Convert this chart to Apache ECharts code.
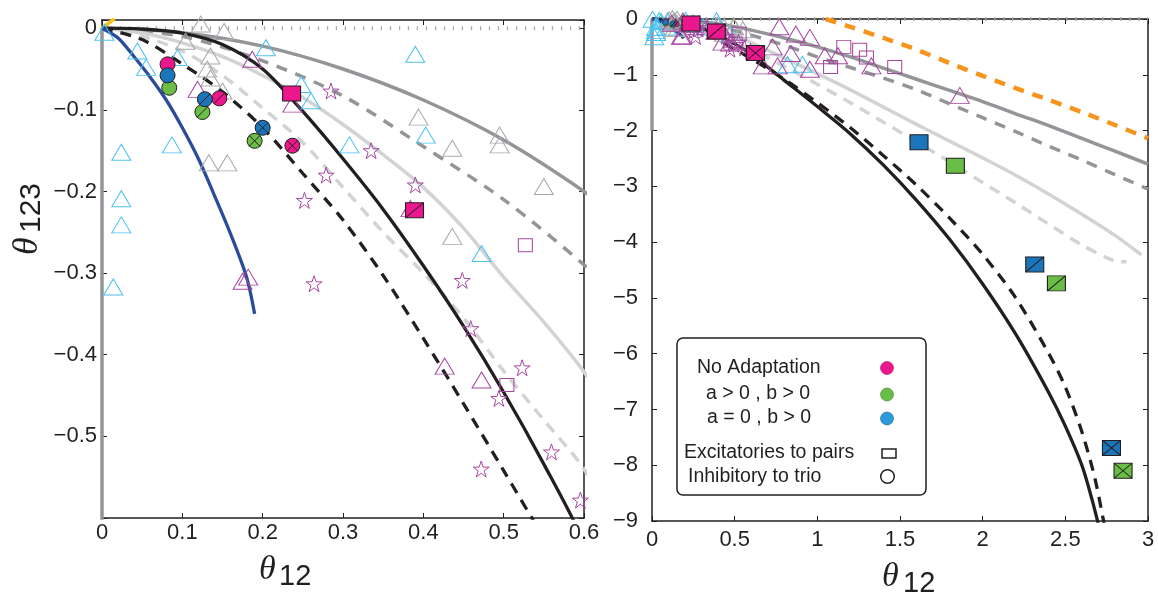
<!DOCTYPE html>
<html><head><meta charset="utf-8">
<script src="https://cdn.jsdelivr.net/npm/echarts@6/dist/echarts.min.js"></script>
<style>html,body{margin:0;padding:0;background:#fff}#c{width:1158px;height:596px}</style>
</head><body><div id="c"></div>
<script>
// ---------- tick labels ----------
const leftXTicks = [0, 0.1, 0.2, 0.3, 0.4, 0.5, 0.6];
const leftYTicks = [0, -0.1, -0.2, -0.3, -0.4, -0.5];
const rightXTicks = [0, 0.5, 1, 1.5, 2, 2.5, 3];
const rightYTicks = [0, -1, -2, -3, -4, -5, -6, -7, -8, -9];
const legendLabels = ['No Adaptation', 'a > 0 , b > 0', 'a = 0 , b > 0', 'Excitatories to pairs', 'Inhibitory to trio'];

// ---------- curves [theta12, theta123] ----------
const blueCurve = [[0,0],[0.02,-0.012],[0.04,-0.035],[0.06,-0.06],[0.08,-0.088],[0.1,-0.122],[0.12,-0.16],[0.14,-0.205],[0.16,-0.252],[0.18,-0.305],[0.19,-0.35]];
const yellowCurve = [[0,0],[0.016,0.012]];
const axisGrayLine = [[0,0],[0,-2]];
const zeroDotted = [[0,0],[3,0]];
const graySolid = [[0,0],[0.1,-0.0055],[0.2,-0.022],[0.3,-0.05],[0.4,-0.088],[0.5,-0.137],[0.6,-0.2],[0.8,-0.34],[1.0,-0.5],[1.2,-0.68],[1.4,-0.88],[1.6,-1.08],[1.8,-1.28],[2.0,-1.48],[2.2,-1.7],[2.4,-1.91],[2.6,-2.14],[2.8,-2.37],[3.0,-2.6]];
const grayDashed = [[0,0],[0.1,-0.01],[0.2,-0.04],[0.3,-0.083],[0.4,-0.145],[0.5,-0.21],[0.6,-0.29],[0.8,-0.47],[1.0,-0.68],[1.2,-0.87],[1.4,-1.06],[1.6,-1.27],[1.8,-1.52],[2.0,-1.77],[2.2,-2.02],[2.4,-2.28],[2.6,-2.53],[2.8,-2.79],[3.0,-3.05]];
const lightSolid = [[0,0],[0.05,-0.006],[0.1,-0.018],[0.15,-0.035],[0.2,-0.058],[0.25,-0.085],[0.3,-0.118],[0.35,-0.155],[0.4,-0.195],[0.45,-0.245],[0.5,-0.305],[0.55,-0.36],[0.6,-0.421],[0.8,-0.7],[1.0,-0.98],[1.2,-1.27],[1.4,-1.58],[1.6,-1.89],[1.8,-2.19],[2.0,-2.49],[2.2,-2.8],[2.4,-3.14],[2.6,-3.5],[2.8,-3.88],[2.96,-4.23]];
const lightDashed = [[0,0],[0.05,-0.01],[0.1,-0.028],[0.15,-0.058],[0.2,-0.098],[0.25,-0.14],[0.3,-0.195],[0.35,-0.25],[0.4,-0.3],[0.45,-0.355],[0.5,-0.42],[0.55,-0.48],[0.6,-0.54],[0.8,-0.85],[1.0,-1.17],[1.2,-1.5],[1.4,-1.85],[1.6,-2.2],[1.8,-2.56],[2.0,-2.93],[2.2,-3.3],[2.4,-3.68],[2.6,-4.05],[2.75,-4.28],[2.82,-4.35],[2.87,-4.35]];
const blackSolid = [[0,0],[0.05,-0.001],[0.1,-0.006],[0.15,-0.02],[0.2,-0.05],[0.25,-0.102],[0.3,-0.16],[0.35,-0.222],[0.4,-0.291],[0.45,-0.365],[0.5,-0.446],[0.55,-0.534],[0.6,-0.63],[0.8,-1.1],[1.0,-1.57],[1.2,-2.06],[1.4,-2.62],[1.6,-3.25],[1.8,-3.95],[2.0,-4.75],[2.2,-5.65],[2.4,-6.7],[2.5,-7.3],[2.6,-8.0],[2.66,-8.6],[2.72,-9.3]];
const blackDashed = [[0,0],[0.05,-0.014],[0.1,-0.044],[0.15,-0.078],[0.2,-0.122],[0.25,-0.178],[0.3,-0.235],[0.35,-0.303],[0.4,-0.38],[0.45,-0.46],[0.5,-0.542],[0.55,-0.625],[0.6,-0.71],[0.8,-1.08],[1.0,-1.5],[1.2,-1.95],[1.4,-2.45],[1.6,-2.98],[1.8,-3.57],[2.0,-4.22],[2.2,-5.0],[2.4,-6.0],[2.5,-6.6],[2.6,-7.4],[2.68,-8.25],[2.75,-9.3]];
const orangeDashed = [[1.05,0],[1.2,-0.14],[1.4,-0.34],[1.6,-0.55],[1.8,-0.79],[2.0,-1.02],[2.2,-1.24],[2.4,-1.45],[2.6,-1.67],[2.8,-1.9],[3.0,-2.14]];

// ---------- hollow markers ----------
const cyanTriangles = [[0.003,-0.005],[0.044,-0.028],[0.055,-0.048],[0.094,-0.036],[0.087,-0.143],[0.024,-0.152],[0.024,-0.209],[0.024,-0.241],[0.014,-0.317],[0.204,-0.024],[0.248,-0.069],[0.26,-0.089],[0.39,-0.032],[0.308,-0.143],[0.403,-0.131],[0.4725,-0.276],[0.82,-0.82],[0.91,-0.81]];
const grayTriangles = [[0.123,0.005],[0.152,-0.004],[0.104,-0.016],[0.135,-0.034],[0.131,-0.05],[0.135,-0.061],[0.15,-0.077],[0.133,-0.165],[0.156,-0.165],[0.394,-0.109],[0.436,-0.147],[0.495,-0.131],[0.495,-0.143],[0.55,-0.194],[0.436,-0.255]];
const purpleTriangles = [[0.119,-0.075],[0.187,-0.038],[0.237,-0.093],[0.384,-0.221],[0.175,-0.31],[0.182,-0.305],[0.4266,-0.414],[0.4725,-0.431],[0.73,-0.5],[0.77,-0.14],[0.87,-0.27],[0.955,-0.33],[0.84,-0.62],[0.67,-0.84],[0.76,-0.84],[1.045,-0.66],[1.125,-0.66],[1.327,-0.84],[0.955,-0.9],[1.862,-1.37]];
const purpleStars = [[0.285,-0.077],[0.335,-0.15],[0.279,-0.18],[0.252,-0.211],[0.39,-0.192],[0.264,-0.313],[0.4485,-0.309],[0.459,-0.368],[0.523,-0.416],[0.494,-0.4535],[0.5595,-0.519],[0.472,-0.54],[0.5955,-0.578]];
const purpleSquares = [[0.527,-0.266],[0.504,-0.437],[1.16,-0.5],[1.256,-0.55],[1.297,-0.69],[1.08,-0.86],[1.468,-0.86]];

// ---------- filled markers: [plain, slash, cross] ----------
const magentaCircles = [[0.0816,-0.0443],[0.146,-0.086],[0.237,-0.144]];
const greenCircles   = [[0.0837,-0.073],[0.125,-0.1027],[0.19,-0.138]];
const blueCircles    = [[0.0816,-0.0578],[0.128,-0.087],[0.2,-0.122]];
const magentaSquares = [[0.236,-0.08],[0.389,-0.223],[0.626,-0.61]];
const blueSquares    = [[1.615,-2.21],[2.315,-4.4],[2.779,-7.69]];
const greenSquares   = [[1.835,-2.63],[2.446,-4.74],[2.849,-8.1]];

// ---------- styling ----------
const C = {black:'#231F20', gray:'#939598', light:'#D1D3D4', blue:'#2B4B9B', yellow:'#F5C018', orange:'#F7941D',
  cyan:'#4CC2F0', grayTri:'#A7A9AC', purple:'#A6479F', magenta:'#EC178C', fblue:'#1B75BB', fgreen:'#6ABD45'};
const STAR = 'path://M10,0L12.35,7.05L19.51,7.05L13.58,11.4L15.88,18.5L10,14.1L4.12,18.5L6.42,11.4L0.49,7.05L7.65,7.05Z';
const SLASH = 'path://M0,10L10,0';
const CROSS = 'path://M0,0L10,10M0,10L10,0';

function fmt(ticks){
  return v => { const t = ticks.find(t => Math.abs(t - v) < 1e-9); return t === undefined ? '' : (t < 0 ? '\u2212' + String(-t) : String(t)); };
}
const FONT = '"Liberation Sans", Arial, sans-serif';

function line(g, data, color, width, dash){
  return {type:'line', xAxisIndex:g*2, yAxisIndex:g*2, data, symbol:'none', showSymbol:false, smooth:0.3,
    silent:true, animation:false, clip:true, z:2,
    lineStyle:{color, width, type: dash || 'solid', cap:'butt'}};
}
function scat(g, data, symbol, size, fill, stroke, bw, z){
  return {type:'scatter', xAxisIndex:g*2, yAxisIndex:g*2, data, symbol, symbolSize:size, silent:true, animation:false,
    clip: g === 0, z: z || 3, itemStyle:{color: fill, borderColor: stroke, borderWidth: bw, opacity:1}};
}

const series = [];
[0,1].forEach(g => {
  series.push(line(g, axisGrayLine, C.gray, 3.5));
  series.push(line(g, zeroDotted, '#A7A9AC', 4, [1.3, 7.7]));
  series.push(line(g, yellowCurve, C.yellow, 3.5));
  series.push(line(g, orangeDashed, C.orange, 4.5, [11, 9]));
  series.push(line(g, graySolid, C.gray, 3.5));
  series.push(line(g, grayDashed, C.gray, 3.5, [11, 9]));
  series.push(line(g, lightSolid, C.light, 3.5));
  series.push(line(g, lightDashed, C.light, 3.5, [11, 8]));
  series.push(line(g, blackDashed, C.black, 3.3, [11, 8]));
  series.push(line(g, blackSolid, C.black, 3.3));
  series.push(line(g, blueCurve, C.blue, 3.3));
  const T = 'transparent';
  series.push(scat(g, cyanTriangles, 'triangle', [19,16], T, C.cyan, 1));
  series.push(scat(g, grayTriangles, 'triangle', [19,16], T, C.grayTri, 1));
  series.push(scat(g, purpleTriangles, 'triangle', [19,16], T, C.purple, 1));
  series.push(scat(g, purpleStars, STAR, 16, T, C.purple, 1));
  series.push(scat(g, purpleSquares, 'rect', [14,13], T, C.purple, 1));
  const cs = g === 0 ? 15 : 6, ls = g === 0 ? 11 : 4;
  [[magentaCircles, C.magenta],[greenCircles, C.fgreen],[blueCircles, C.fblue]].forEach(([d, col]) => {
    series.push(scat(g, d, 'circle', cs, col, C.black, g === 0 ? 1 : 0.5, 4));
    series.push(scat(g, [d[1]], SLASH, ls, T, C.black, 1, 5));
    series.push(scat(g, [d[2]], CROSS, ls, T, C.black, 1, 5));
  });
  [[magentaSquares, C.magenta],[blueSquares, C.fblue],[greenSquares, C.fgreen]].forEach(([d, col]) => {
    series.push(scat(g, d, 'rect', [18,15], col, C.black, 1, 6));
    series.push(scat(g, [d[1]], SLASH, [18,15], T, C.black, 1, 7));
    series.push(scat(g, [d[2]], CROSS, [18,15], T, C.black, 1, 7));
  });
});

function ax(g, pos, min, max, interval, ticks, margin){
  return {type:'value', gridIndex:g, position:pos, min, max, interval,
    axisLine:{show:true, onZero:false, lineStyle:{color:C.black, width:1.5}},
    axisTick:{show:true, inside:true, length:5, lineStyle:{color:C.black, width:1}},
    axisLabel:{show: pos === 'bottom' || pos === 'left', formatter: fmt(ticks), color:C.black, fontSize:22, fontFamily:FONT, margin},
    splitLine:{show:false}};
}

const SERIF = '"Liberation Serif", "DejaVu Serif", serif';
const option = {
  animation:false,
  backgroundColor:'#fff',
  grid:[
    {left:102, top:20, width:482, height:498, containLabel:false},
    {left:652, top:19, width:496, height:502, containLabel:false}
  ],
  xAxis:[
    ax(0,'bottom',0,0.6,0.1,leftXTicks,4),
    ax(0,'top',0,0.6,0.1,leftXTicks,4),
    ax(1,'bottom',0,3,0.5,rightXTicks,8),
    ax(1,'top',0,3,0.5,rightXTicks,8)
  ],
  yAxis:[
    ax(0,'left',-0.6,0.01,0.1,leftYTicks,5),
    ax(0,'right',-0.6,0.01,0.1,leftYTicks,5),
    ax(1,'left',-9,0,1,rightYTicks,14),
    ax(1,'right',-9,0,1,rightYTicks,14)
  ],
  series,
  graphic:[
    {type:'text', x:259, y:570, z:50, style:{text:'\u03b8', fontSize:34, fontStyle:'italic', fontFamily:SERIF, fill:C.black, align:'left', verticalAlign:'middle'}},
    {type:'text', x:279, y:577, z:50, style:{text:'12', fontSize:29, fontFamily:FONT, fill:C.black, align:'left', verticalAlign:'middle'}},
    {type:'text', x:882, y:577, z:50, style:{text:'\u03b8', fontSize:34, fontStyle:'italic', fontFamily:SERIF, fill:C.black, align:'left', verticalAlign:'middle'}},
    {type:'text', x:903, y:584, z:50, style:{text:'12', fontSize:29, fontFamily:FONT, fill:C.black, align:'left', verticalAlign:'middle'}},
    {type:'group', x:28, y:255, rotation:Math.PI/2, z:50, children:[
      {type:'text', x:0, y:0, style:{text:'\u03b8', fontSize:36, fontStyle:'italic', fontFamily:SERIF, fill:C.black, align:'left', verticalAlign:'middle'}},
      {type:'text', x:22, y:4, style:{text:'123', fontSize:30, fontFamily:FONT, fill:C.black, align:'left', verticalAlign:'middle'}}
    ]},
    {type:'rect', z:100, shape:{x:677, y:338, width:249, height:157, r:6}, style:{fill:'#fff', stroke:C.black, lineWidth:1.5}},
    {type:'text', z:101, x:697, y:368, style:{text:legendLabels[0], fontSize:19.5, fontFamily:FONT, fill:C.black, align:'left', verticalAlign:'middle'}},
    {type:'text', z:101, x:706, y:394, style:{text:legendLabels[1], fontSize:19.5, fontFamily:FONT, fill:C.black, align:'left', verticalAlign:'middle'}},
    {type:'text', z:101, x:707, y:418, style:{text:legendLabels[2], fontSize:19.5, fontFamily:FONT, fill:C.black, align:'left', verticalAlign:'middle'}},
    {type:'text', z:101, x:684, y:453, style:{text:legendLabels[3], fontSize:19.5, fontFamily:FONT, fill:C.black, align:'left', verticalAlign:'middle'}},
    {type:'text', z:101, x:688, y:476.5, style:{text:legendLabels[4], fontSize:19.5, fontFamily:FONT, fill:C.black, align:'left', verticalAlign:'middle'}},
    {type:'circle', z:101, shape:{cx:887, cy:368, r:6.5}, style:{fill:C.magenta, stroke:'#9c1560', lineWidth:0.6}},
    {type:'circle', z:101, shape:{cx:887, cy:394.5, r:6.5}, style:{fill:C.fgreen, stroke:'#3f7f2a', lineWidth:0.6}},
    {type:'circle', z:101, shape:{cx:887, cy:418.5, r:6.5}, style:{fill:'#2A9AD8', stroke:'#1b5f8c', lineWidth:0.6}},
    {type:'rect', z:101, shape:{x:882, y:449, width:14, height:9}, style:{fill:'#fff', stroke:C.black, lineWidth:1.5}},
    {type:'circle', z:101, shape:{cx:887.5, cy:476.5, r:6.8}, style:{fill:'#fff', stroke:C.black, lineWidth:1.5}}
  ]
};
const chart = echarts.init(document.getElementById('c'), null, {renderer:'canvas'});
chart.setOption(option);
</script></body></html>
